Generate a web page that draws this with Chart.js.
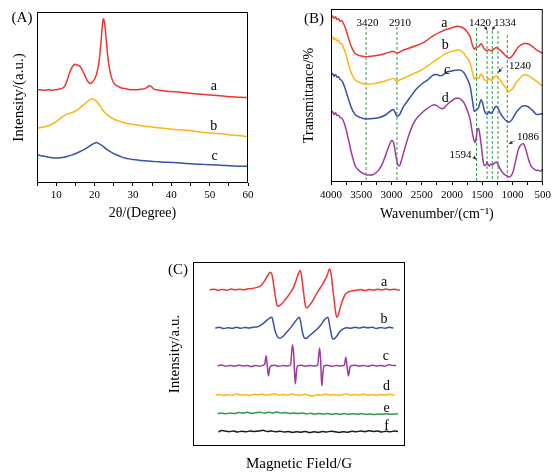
<!DOCTYPE html>
<html>
<head>
<meta charset="utf-8">
<script src="https://cdn.jsdelivr.net/npm/chart.js@4.4.1/dist/chart.umd.min.js"></script>
<style>
  body { margin: 0; background: #fff; width: 555px; height: 473px; position: relative; overflow: hidden; }
  canvas { position: absolute; }
</style>
</head>
<body>
<canvas id="xrd" width="270" height="230" style="left:0;top:0"></canvas>
<canvas id="ftir" width="285" height="230" style="left:270px;top:0"></canvas>
<canvas id="epr" width="270" height="233" style="left:160px;top:240px"></canvas>
<script>
// (A) XRD, 2theta vs intensity (arbitrary offset units)
const xrdA = [[5,54.4],[6,54.6],[7,54.2],[8,54.5],[9,54.3],[10,54.6],[11,55.0],[12,56.0],[12.5,57.8],[13,61.0],[13.5,64.5],[14,67.2],[14.5,68.8],[15,69.4],[15.5,69.0],[16,68.6],[16.5,67.3],[17,65.2],[17.5,62.8],[18,60.3],[18.5,58.7],[19,58.2],[19.5,59.0],[20,60.8],[20.5,63.5],[21,68.5],[21.3,73.5],[21.6,80.5],[21.9,88.5],[22.1,93.5],[22.3,96.0],[22.5,95.0],[22.8,90.0],[23.1,82.5],[23.4,75.0],[23.8,68.0],[24.3,62.5],[25,58.6],[26,56.6],[27,55.6],[28,55.2],[29,54.7],[30,54.5],[31,54.6],[32,54.8],[33,55.2],[33.7,56.0],[34.3,56.9],[34.9,56.2],[35.5,54.9],[36.5,54.4],[38,54.0],[40,53.5],[42,53.2],[44,52.6],[46,52.2],[48,51.9],[50,51.5],[52,51.1],[54,50.7],[56,50.4],[58,50.1],[60,49.9]];
const xrdB = [[5,32.0],[6,32.4],[7,32.9],[8,33.5],[9,34.5],[10,35.9],[11,37.6],[12,39.3],[13,40.4],[14,41.1],[15,42.0],[16,43.6],[17,45.4],[18,47.4],[18.8,48.8],[19.5,49.3],[20.2,48.5],[21,46.5],[22,43.0],[23,40.5],[24,38.8],[25,37.4],[26,36.5],[27,35.8],[28,35.1],[29,34.6],[30,34.2],[32,33.6],[34,33.0],[36,32.5],[38,32.0],[40,31.5],[42,31.1],[44,30.8],[46,30.3],[48,29.7],[50,29.2],[52,28.9],[54,28.5],[56,28.0],[58,27.6],[60,27.2]];
const xrdC = [[5,16.5],[6,16.0],[7,15.6],[8,15.1],[9,14.8],[10,14.6],[11,14.7],[12,15.0],[13,15.6],[14,16.3],[15,17.1],[16,18.1],[17,19.2],[18,20.5],[19,22.0],[20,23.3],[20.5,23.7],[21,23.2],[22,21.8],[23,20.0],[24,18.5],[25,17.2],[26,16.2],[27,15.3],[28,14.6],[29,14.1],[30,13.7],[32,13.2],[34,12.8],[36,12.5],[38,12.2],[40,12.0],[42,11.8],[44,11.4],[46,11.1],[48,10.9],[50,10.7],[52,10.5],[54,10.2],[56,10.0],[58,9.8],[60,9.7]];
const xrdLabels = [["a", 51.1, 56.7], ["b", 51.1, 33.4], ["c", 51.3, 15.5]];

// (B) FTIR, wavenumber vs transmittance (offset units)
const ftirA = [[4000,97.0],[3975,97.8],[3950,96.6],[3925,97.4],[3900,95.8],[3875,96.2],[3850,94.8],[3825,95.2],[3800,93.8],[3775,92.0],[3750,89.5],[3725,86.5],[3700,83.6],[3675,80.8],[3650,78.8],[3625,77.0],[3600,75.8],[3550,74.8],[3500,74.3],[3420,73.9],[3300,74.3],[3200,74.9],[3100,75.8],[3000,76.9],[2960,77.0],[2910,76.0],[2860,76.8],[2800,77.8],[2700,79.0],[2600,80.3],[2500,81.7],[2400,84.0],[2300,86.5],[2200,88.3],[2100,89.9],[2000,91.0],[1900,91.8],[1850,91.4],[1800,90.4],[1750,88.5],[1700,85.6],[1660,80.5],[1630,78.2],[1600,79.5],[1560,79.8],[1520,81.5],[1490,80.0],[1460,78.2],[1420,77.4],[1390,78.0],[1360,77.4],[1334,77.6],[1300,78.6],[1270,79.3],[1240,78.5],[1200,77.6],[1150,75.8],[1100,74.0],[1060,73.0],[1020,73.8],[980,75.5],[940,77.8],[900,79.7],[850,81.0],[800,81.7],[750,81.5],[700,80.7],[650,79.3],[600,77.8],[550,76.8],[500,75.8]];
const ftirB = [[4000,84.6],[3975,85.6],[3950,83.8],[3925,84.8],[3900,83.0],[3875,83.6],[3850,81.6],[3825,81.8],[3800,79.7],[3775,77.5],[3750,74.9],[3725,71.5],[3700,68.0],[3675,65.3],[3650,63.2],[3625,61.5],[3600,60.2],[3550,59.0],[3500,58.3],[3420,57.7],[3300,58.0],[3200,58.7],[3100,59.6],[3000,60.8],[2960,61.0],[2910,59.3],[2860,60.3],[2800,61.2],[2700,62.8],[2600,64.4],[2500,66.1],[2400,68.5],[2300,71.0],[2200,73.5],[2100,75.8],[2000,77.0],[1900,77.8],[1850,77.3],[1800,75.8],[1750,73.2],[1700,70.0],[1660,64.5],[1630,60.6],[1600,62.0],[1560,61.0],[1520,63.7],[1490,62.2],[1460,60.2],[1420,59.8],[1390,61.0],[1360,60.0],[1334,60.4],[1300,61.8],[1270,62.6],[1240,61.6],[1200,59.8],[1150,57.3],[1100,55.0],[1060,53.4],[1020,54.3],[980,56.0],[940,58.5],[900,60.2],[850,62.3],[800,63.2],[750,62.8],[700,61.8],[650,60.5],[600,59.3],[550,57.8],[500,56.7]];
const ftirC = [[4000,63.2],[3975,64.0],[3950,62.4],[3925,63.4],[3900,61.8],[3875,62.0],[3850,60.4],[3825,60.0],[3800,58.3],[3775,56.0],[3750,53.4],[3725,50.5],[3700,47.6],[3675,45.0],[3650,42.7],[3625,41.0],[3600,39.8],[3550,38.5],[3500,37.8],[3420,37.2],[3300,37.4],[3200,38.0],[3100,39.5],[3000,42.3],[2970,42.8],[2940,41.0],[2910,38.8],[2870,39.5],[2830,42.5],[2800,44.6],[2700,49.5],[2600,54.4],[2500,57.8],[2400,60.2],[2300,63.2],[2250,63.4],[2200,62.6],[2150,63.0],[2100,64.7],[2000,65.5],[1900,66.1],[1850,65.8],[1800,64.3],[1750,61.0],[1700,56.3],[1660,47.5],[1630,41.5],[1600,42.5],[1560,44.0],[1520,48.5],[1490,46.0],[1460,41.5],[1420,39.8],[1390,41.5],[1360,40.5],[1334,41.0],[1300,43.5],[1270,44.6],[1240,43.5],[1200,40.5],[1150,37.8],[1100,36.0],[1060,35.3],[1020,36.2],[980,38.5],[940,41.0],[900,42.7],[850,44.5],[800,45.0],[750,44.5],[700,43.2],[650,41.5],[600,39.8],[550,40.0],[500,40.4]];
const ftirD = [[4000,40.7],[3975,41.6],[3950,39.8],[3925,40.8],[3900,39.2],[3875,39.4],[3850,38.0],[3825,37.6],[3800,36.4],[3775,34.0],[3750,31.0],[3725,27.0],[3700,23.2],[3675,19.0],[3650,15.4],[3625,12.3],[3600,9.6],[3550,7.2],[3500,5.7],[3420,4.3],[3350,4.1],[3300,4.4],[3250,5.6],[3200,7.6],[3150,10.8],[3100,15.4],[3050,20.5],[3010,24.0],[2990,24.5],[2960,22.5],[2930,16.0],[2900,10.8],[2880,9.4],[2860,10.0],[2830,13.5],[2800,17.3],[2750,23.5],[2700,29.0],[2650,33.5],[2600,36.8],[2500,40.7],[2400,43.5],[2300,45.6],[2250,45.0],[2200,43.7],[2150,43.2],[2100,45.0],[2050,46.6],[2000,48.0],[1950,49.2],[1900,49.5],[1850,48.6],[1800,46.6],[1750,42.5],[1700,36.8],[1670,30.5],[1640,25.0],[1620,23.2],[1600,26.0],[1580,31.0],[1560,31.5],[1540,28.0],[1510,19.5],[1490,13.5],[1470,9.8],[1440,10.0],[1420,11.8],[1400,10.0],[1380,9.4],[1360,10.6],[1334,10.0],[1300,11.0],[1270,11.8],[1240,10.4],[1200,7.5],[1150,5.0],[1100,3.7],[1060,2.9],[1020,3.8],[990,6.0],[960,10.5],[930,15.5],[900,19.5],[870,21.5],[840,22.5],[820,22.6],[800,21.2],[770,18.0],[740,14.0],[710,10.8],[680,8.8],[650,7.8],[600,6.8],[570,7.0],[540,6.3],[500,7.4]];
const ftirMarks = [3420, 2910, 1594, 1420, 1334, 1240, 1086];
const ftirMarkTops = [91.4, 91.4, 90.8, 89.0, 89.0, 89.0, 86.7];
const ftirLabels = [["a", 2128, 93.7], ["b", 2112, 80.8], ["c", 2080, 66.0], ["d", 2112, 49.5]];
const ftirPeakText = [["3420", 3398, 93.8], ["2910", 2860, 93.8], ["1420", 1537, 93.8], ["1334", 1124, 93.8], ["1240", 874, 68.6], ["1594", 1859, 15.9], ["1086", 744, 26.5]];
const ftirArrows = [[1470, 92.3, 1420, 89.4], [1290, 92.3, 1334, 89.4], [1160, 67.6, 1236, 64.6], [1640, 14.6, 1600, 13.2], [972, 24.2, 1060, 22.4]];

// (C) EPR, magnetic field vs intensity (offset units)
const eprA = [[7.8,84.9],[10,85.2],[12,84.6],[14,85.1],[16,84.7],[18,85.3],[20,84.8],[22,85.2],[24,84.9],[26,85.4],[28,85.6],[30,86.2],[31.7,86.9],[33,88.5],[34.1,90.4],[35.3,92.8],[36.4,94.4],[37.2,93.2],[38,88.0],[38.8,81.3],[39.4,77.5],[39.9,75.9],[40.6,76.2],[41.9,77.3],[43.5,79.5],[45.8,83.1],[47.5,86.5],[49,91.3],[49.8,93.8],[50.5,95.5],[51.2,92.5],[52,85.0],[52.9,77.0],[53.6,75.0],[54.5,75.8],[56.5,79.0],[58.4,83.0],[60.5,86.8],[62.3,90.4],[63.5,93.5],[64.4,96.2],[65.1,94.0],[65.8,87.0],[66.6,79.0],[67.3,72.5],[67.8,70.0],[68.6,71.5],[69.4,75.0],[70.5,79.0],[71.7,82.2],[73.2,83.7],[74.9,84.2],[77,84.6],[79,85.0],[81,84.5],[83,85.1],[85,84.7],[87,85.2],[89,84.8],[91,85.3],[93,84.9],[95,85.2],[97.6,84.6]];
const eprB = [[10.5,64.1],[12.5,64.5],[14.5,63.8],[16.5,64.3],[18.5,63.9],[20.5,64.6],[22.5,64.0],[24.5,64.4],[26.5,64.1],[28.5,64.6],[30.1,64.7],[31.7,65.5],[33.3,66.8],[34.5,68.0],[35.6,69.0],[36.4,69.8],[37.2,70.0],[37.9,67.0],[38.6,63.0],[39.6,59.9],[40.3,58.8],[41.1,58.6],[42.5,59.6],[44.3,62.0],[46.3,64.6],[48.2,67.7],[49.3,69.2],[50.2,70.0],[51.0,66.0],[51.8,61.0],[52.6,58.6],[53.5,58.5],[54.5,59.5],[56.5,61.5],[58.5,63.5],[60.3,65.8],[62,68.6],[63.6,70.0],[64.4,66.0],[65.2,61.0],[65.9,58.1],[66.8,58.4],[67.8,59.7],[69,61.8],[70.2,63.2],[72.5,64.3],[74.5,64.0],[76.5,64.5],[78.5,64.1],[80.5,64.7],[82.5,64.2],[84.5,64.5],[86.5,63.9],[88.5,64.4],[90.5,64.0],[92.5,64.6],[94.5,64.1]];
const eprC = [[11.6,43.6],[13.5,44.0],[15.5,43.3],[17.5,43.8],[19.5,43.4],[21.5,43.9],[23.5,43.5],[25.5,43.8],[27.5,43.2],[29.5,43.7],[31.5,43.4],[33.0,43.8],[33.8,44.5],[34.5,49.0],[35.0,44.0],[35.6,38.1],[36.2,42.5],[36.9,43.6],[38.5,43.9],[40.5,43.3],[42.5,43.8],[44.5,43.5],[46.0,44.0],[46.9,55.0],[47.5,50.0],[48.0,38.0],[48.3,33.8],[48.8,40.5],[49.4,43.6],[51,43.9],[53,43.4],[55,43.8],[57,43.5],[58.8,44.0],[59.7,53.2],[60.2,47.0],[60.5,38.0],[60.8,32.7],[61.3,40.0],[61.9,43.6],[63.5,43.9],[65.5,43.3],[67.5,43.8],[69.5,43.5],[71.4,44.0],[72.1,48.3],[72.6,44.0],[73.3,38.1],[73.9,42.0],[74.5,43.6],[76.5,43.9],[78.5,43.4],[80.5,43.8],[82.5,43.3],[84.5,43.9],[86.5,43.5],[88.5,43.8],[90.5,43.4],[92.5,44.2],[94.5,43.7],[95.8,43.8]];
const eprD = [[10.7,27.8],[12.5,28.0],[14.5,27.5],[16.5,27.9],[18.5,27.4],[20.5,28.2],[22.5,27.7],[24.5,27.9],[26.5,27.5],[28.5,28.1],[30.5,27.8],[32.5,28.3],[34.5,27.6],[36.5,28.0],[38.5,28.4],[40.5,27.7],[42.5,28.0],[44.5,27.6],[46.5,28.2],[48.5,27.8],[50.5,27.5],[52.5,28.1],[54.5,27.7],[56.5,27.2],[58.5,27.9],[60.5,27.6],[62.5,28.2],[64.5,27.7],[66.5,28.0],[68.5,27.5],[70.5,27.9],[72.5,28.3],[74.5,27.6],[76.5,28.0],[78.5,27.7],[80.5,28.2],[82.5,27.6],[84.5,27.9],[86.5,27.5],[88.5,28.0],[90.5,27.7],[92.5,28.1],[95,27.6]];
const eprE = [[11.6,17.6],[13.5,17.9],[15.5,17.5],[17.5,18.0],[19.5,17.6],[21.5,18.2],[23.5,17.9],[25.5,18.3],[27.5,17.8],[29.5,18.1],[31.5,18.4],[33.5,17.9],[35.5,18.3],[37.5,18.0],[39.5,18.5],[41.5,18.0],[43.5,18.2],[45.5,17.7],[47.5,18.0],[49.5,17.6],[51.5,17.9],[53.5,17.4],[55.5,17.8],[57.5,17.3],[59.5,17.7],[61.5,17.4],[63.5,17.6],[65.5,17.2],[67.5,17.5],[69.5,17.3],[71.5,17.6],[73.5,17.2],[75.5,17.5],[77.5,17.3],[79.5,17.6],[81.5,17.2],[83.5,17.4],[85.5,17.1],[87.5,17.4],[89.5,17.2],[91.5,17.5],[93.5,17.3],[96.7,17.4]];
const eprF = [[12,7.6],[13.5,8.4],[15,8.2],[17,7.8],[19,8.1],[21,7.6],[23,8.0],[25,7.7],[27,8.2],[29,7.9],[31,8.1],[33,8.6],[35,7.9],[37,8.2],[39,7.7],[41,8.0],[43,7.6],[45,7.9],[47,7.4],[49,7.8],[51,7.5],[53,7.9],[55,7.3],[57,7.7],[59,7.4],[61,7.9],[63,7.6],[65,8.0],[67,7.7],[69,7.4],[71,7.8],[73,7.5],[75,8.0],[77,7.7],[79,8.2],[81,7.8],[83,8.3],[85,7.9],[87,8.1],[89,7.6],[91,8.0],[93,7.7],[95,8.2],[96.7,7.9]];
const eprLabels = [["a", 90.1, 88.9], ["b", 90.1, 68.6], ["c", 91.0, 48.6], ["d", 91.3, 32.3], ["e", 91.3, 20.5], ["f", 91.3, 10.5]];

const SERIF = '"Liberation Serif", "Times New Roman", serif';
const RED = "#ef3434", ORANGE = "#fdb515", BLUE = "#3a51a6", PURPLE = "#9c3c9c", GREEN = "#2f9a48", BLACK = "#1a1a1a";

Chart.defaults.font.family = SERIF;
Chart.defaults.color = "#000";

function curve(pairs, color) {
  return {
    data: pairs.map(([x, y]) => ({ x, y })),
    borderColor: color,
    borderWidth: 1.5,
    pointRadius: 0,
    fill: false,
    cubicInterpolationMode: "monotone",
  };
}

// frame around plot area, curve letters, panel letter
function decor(id, letter, letterPos, labels, labelSize, extra) {
  return {
    id: id,
    afterDatasetsDraw(chart) {
      const { ctx, chartArea: a, scales } = chart;
      ctx.save();
      ctx.strokeStyle = "#000";
      ctx.lineWidth = 1;
      ctx.strokeRect(a.left + 0.5, a.top + 0.5, a.width - 1, a.height - 1);
      ctx.fillStyle = "#000";
      ctx.textAlign = "center";
      ctx.textBaseline = "middle";
      ctx.font = labelSize + "px " + SERIF;
      labels.forEach(([t, x, y]) => {
        ctx.fillText(t, scales.x.getPixelForValue(x), scales.y.getPixelForValue(y));
      });
      ctx.font = "15px " + SERIF;
      ctx.fillText(letter, letterPos[0], letterPos[1]);
      if (extra) extra(ctx, scales);
      ctx.restore();
    },
  };
}

function hiddenY(title, size, pad, width, max) {
  return {
    min: 0,
    max: max,
    border: { display: false },
    grid: { display: false },
    ticks: { display: false },
    title: { display: true, text: title, color: "#000", font: { size: size }, padding: { top: pad, bottom: 0 } },
    afterFit: (s) => { s.width = width; },
  };
}

// (A)
new Chart(document.getElementById("xrd"), {
  type: "line",
  data: { datasets: [curve(xrdA, RED), curve(xrdB, ORANGE), curve(xrdC, BLUE)] },
  options: {
    responsive: false,
    animation: false,
    layout: { padding: { left: 0, top: 12, right: 22, bottom: 0 } },
    plugins: { legend: { display: false }, tooltip: { enabled: false } },
    scales: {
      x: {
        type: "linear",
        min: 5,
        max: 60,
        border: { display: false },
        grid: { drawOnChartArea: false, tickLength: 3, color: "#000" },
        ticks: {
          stepSize: 5, autoSkip: false, maxRotation: 0, padding: 3, font: { size: 11 },
          callback: (v) => (v % 10 === 0 ? v : ""),
        },
        title: { display: true, text: "2θ/(Degree)", font: { size: 14 }, padding: { top: 0, bottom: 8 } },
        afterFit: (s) => { s.height = 47; },
      },
      y: hiddenY("Intensity/(a.u.)", 15, 10, 37, 100),
    },
  },
  plugins: [decor("decorA", "(A)", [22, 18], xrdLabels, 14)],
});

// (B)
function arrow(ctx, x1, y1, x2, y2) {
  const ang = Math.atan2(y2 - y1, x2 - x1);
  ctx.beginPath();
  ctx.moveTo(x1, y1);
  ctx.lineTo(x2, y2);
  ctx.stroke();
  ctx.beginPath();
  ctx.moveTo(x2, y2);
  ctx.lineTo(x2 - 4 * Math.cos(ang - 0.45), y2 - 4 * Math.sin(ang - 0.45));
  ctx.lineTo(x2 - 4 * Math.cos(ang + 0.45), y2 - 4 * Math.sin(ang + 0.45));
  ctx.closePath();
  ctx.fill();
}

const markSets = ftirMarks.map((wn, i) => ({
  data: [{ x: wn, y: ftirMarkTops[i] }, { x: wn, y: 0.6 }],
  borderColor: GREEN,
  borderWidth: 1,
  borderDash: [3, 2],
  pointRadius: 0,
  fill: false,
}));

new Chart(document.getElementById("ftir"), {
  type: "line",
  data: { datasets: [curve(ftirA, RED), curve(ftirB, ORANGE), curve(ftirC, BLUE), curve(ftirD, PURPLE), ...markSets] },
  options: {
    responsive: false,
    animation: false,
    layout: { padding: { left: 0, top: 9, right: 9, bottom: 0 } },
    plugins: { legend: { display: false }, tooltip: { enabled: false } },
    scales: {
      x: {
        type: "linear",
        min: 500,
        max: 4000,
        reverse: true,
        border: { display: false },
        grid: { drawOnChartArea: false, tickLength: 3, color: "#000" },
        ticks: {
          stepSize: 250, autoSkip: false, maxRotation: 0, padding: 4, font: { size: 11 },
          callback: (v) => (v % 500 === 0 ? v : ""),
        },
        title: { display: true, text: "Wavenumber/(cm⁻¹)", font: { size: 14 }, padding: { top: 0, bottom: 7 } },
        afterFit: (s) => { s.height = 48; },
      },
      y: hiddenY("Transmittance/%", 14, 31, 61, 102),
    },
  },
  plugins: [decor("decorB", "(B)", [44, 19], ftirLabels, 14, (ctx, s) => {
    ctx.font = "11px " + SERIF;
    ftirPeakText.forEach(([t, x, y]) => ctx.fillText(t, s.x.getPixelForValue(x), s.y.getPixelForValue(y)));
    ctx.strokeStyle = "#333";
    ctx.fillStyle = "#333";
    ctx.lineWidth = 0.8;
    ftirArrows.forEach(([x1, y1, x2, y2]) =>
      arrow(ctx, s.x.getPixelForValue(x1), s.y.getPixelForValue(y1), s.x.getPixelForValue(x2), s.y.getPixelForValue(y2)));
  })],
});

// (C)
new Chart(document.getElementById("epr"), {
  type: "line",
  data: {
    datasets: [curve(eprA, RED), curve(eprB, BLUE), curve(eprC, PURPLE), curve(eprD, ORANGE), curve(eprE, GREEN), curve(eprF, BLACK)],
  },
  options: {
    responsive: false,
    animation: false,
    layout: { padding: { left: 0, top: 22, right: 25, bottom: 0 } },
    plugins: { legend: { display: false }, tooltip: { enabled: false } },
    scales: {
      x: {
        type: "linear",
        min: 0,
        max: 100,
        border: { display: false },
        grid: { display: false },
        ticks: { display: false },
        title: { display: true, text: "Magnetic Field/G", font: { size: 15 }, padding: { top: 0, bottom: 0 } },
        afterFit: (s) => { s.height = 27; },
      },
      y: hiddenY("Intensity/a.u.", 15, 6, 33, 100),
    },
  },
  plugins: [decor("decorC", "(C)", [18, 30], eprLabels, 14)],
});
</script>
</body>
</html>
